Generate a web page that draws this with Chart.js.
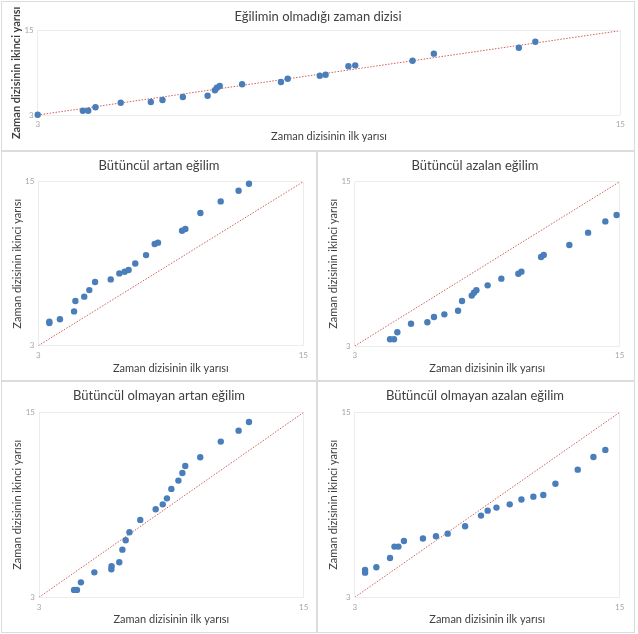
<!DOCTYPE html>
<html>
<head>
<meta charset="utf-8">
<script src="https://cdn.jsdelivr.net/npm/chart.js@4.4.0/dist/chart.umd.min.js"></script>
<style>
  body { margin: 0; background: #fff; width: 638px; height: 634px; position: relative; overflow: hidden; }
  .panel { position: absolute; box-sizing: border-box; border: 1px solid #dcdcdc; background: #fff; }
  .panel canvas { position: absolute; left: 0; top: 0; }
</style>
</head>
<body>
<div class="panel" id="p1"><canvas id="c1"></canvas></div>
<div class="panel" id="p2"><canvas id="c2"></canvas></div>
<div class="panel" id="p3"><canvas id="c3"></canvas></div>
<div class="panel" id="p4"><canvas id="c4"></canvas></div>
<div class="panel" id="p5"><canvas id="c5"></canvas></div>
<script>
// axis ticks (both axes, all panels)
var axisTicks = [3, 15];
var xAxisTitle = "Zaman dizisinin ilk yarısı";
var yAxisTitle = "Zaman dizisinin ikinci yarısı";

// Eğilimin olmadığı zaman dizisi
var noTrendX = [3.00, 3.93, 4.04, 4.19, 4.71, 5.33, 5.57, 5.99, 6.50, 6.65, 6.69, 6.75, 7.21, 8.01, 8.15, 8.81, 8.93, 9.40, 9.54, 10.72, 11.16, 12.91, 13.25];
var noTrendY = [3.04, 3.61, 3.61, 4.10, 4.75, 4.85, 5.14, 5.56, 5.75, 6.52, 6.89, 7.13, 7.37, 7.70, 8.17, 8.59, 8.74, 9.93, 10.07, 10.73, 11.73, 12.58, 13.43];

// Bütüncül artan eğilim
var monoIncX = [3.50, 3.50, 3.98, 4.62, 4.68, 5.08, 5.31, 5.57, 6.28, 6.67, 6.91, 7.09, 7.39, 7.88, 8.27, 8.42, 9.51, 9.66, 10.34, 11.26, 12.07, 12.54];
var monoIncY = [4.66, 4.76, 4.93, 5.51, 6.27, 6.59, 7.07, 7.66, 7.85, 8.29, 8.41, 8.54, 9.02, 9.63, 10.44, 10.54, 11.41, 11.54, 12.71, 13.56, 14.34, 14.85];

// Bütüncül azalan eğilim
var monoDecX = [4.60, 4.78, 4.93, 5.55, 6.29, 6.59, 7.06, 7.68, 7.86, 8.30, 8.40, 8.51, 9.02, 9.64, 10.41, 10.55, 11.44, 11.56, 12.72, 13.57, 14.35, 14.86];
var monoDecY = [3.49, 3.49, 4.00, 4.63, 4.73, 5.12, 5.31, 5.58, 6.29, 6.68, 6.89, 7.07, 7.43, 7.92, 8.28, 8.43, 9.50, 9.65, 10.38, 11.28, 12.10, 12.57];

// Bütüncül olmayan artan eğilim
var nonMonoIncX = [4.59, 4.72, 4.90, 5.51, 6.28, 6.29, 6.64, 6.78, 6.93, 7.10, 7.59, 8.29, 8.61, 8.80, 9.00, 9.32, 9.50, 9.63, 10.31, 11.24, 12.05, 12.52];
var nonMonoIncY = [3.48, 3.48, 3.97, 4.62, 4.82, 5.01, 5.27, 6.09, 6.70, 7.22, 8.02, 8.71, 9.03, 9.42, 10.03, 10.57, 11.06, 11.52, 12.08, 13.10, 13.81, 14.37];

// Bütüncül olmayan azalan eğilim
var nonMonoDecX = [3.47, 3.47, 3.98, 4.60, 4.80, 4.98, 5.23, 6.09, 6.68, 7.21, 8.00, 8.72, 9.02, 9.42, 10.02, 10.55, 11.09, 11.54, 12.09, 13.10, 13.81, 14.35];
var nonMonoDecY = [4.60, 4.77, 4.95, 5.55, 6.29, 6.29, 6.65, 6.81, 6.96, 7.13, 7.61, 8.30, 8.62, 8.82, 9.03, 9.34, 9.53, 9.64, 10.37, 11.28, 12.10, 12.56];

var FONT = "Lato, 'Open Sans', sans-serif";

// panel boxes and plot areas in page pixels
var panels = [
  { id: "1", title: "Eğilimin olmadığı zaman dizisi", xs: noTrendX, ys: noTrendY,
    box: [1, 1, 634, 150], plot: { l: 37.7, r: 620.3, t: 30.7, b: 115 },
    titleAt: [318, 17], xTitleY: 136, yTitleX: 16.5, yBold: true },
  { id: "2", title: "Bütüncül artan eğilim", xs: monoIncX, ys: monoIncY,
    box: [1, 151, 316, 230], plot: { l: 38.3, r: 303.3, t: 181.7, b: 345.7 },
    titleAt: [159, 166], xTitleY: 368.5, yTitleX: 17 },
  { id: "3", title: "Bütüncül azalan eğilim", xs: monoDecX, ys: monoDecY,
    box: [317, 151, 318, 230], plot: { l: 354.7, r: 619.7, t: 181.7, b: 346 },
    titleAt: [475, 166], xTitleY: 368.5, yTitleX: 333 },
  { id: "4", title: "Bütüncül olmayan artan eğilim", xs: nonMonoIncX, ys: nonMonoIncY,
    box: [1, 381, 316, 252], plot: { l: 39, r: 303.7, t: 412.3, b: 597.3 },
    titleAt: [159, 396], xTitleY: 619.3, yTitleX: 17 },
  { id: "5", title: "Bütüncül olmayan azalan eğilim", xs: nonMonoDecX, ys: nonMonoDecY,
    box: [317, 381, 318, 252], plot: { l: 354.7, r: 619.7, t: 412.3, b: 597.3 },
    titleAt: [475, 396], xTitleY: 619.3, yTitleX: 333 }
];

panels.forEach(function (p) {
  var div = document.getElementById("p" + p.id);
  div.style.left = p.box[0] + "px";
  div.style.top = p.box[1] + "px";
  div.style.width = p.box[2] + "px";
  div.style.height = p.box[3] + "px";

  var cx = p.box[0] + 1, cy = p.box[1] + 1;
  var cw = p.box[2] - 2, ch = p.box[3] - 2;
  var canvas = document.getElementById("c" + p.id);
  canvas.width = cw;
  canvas.height = ch;

  var axisFontSize = 11, lh = axisFontSize * 1.2;

  var titlePlugin = {
    id: "panelTitle" + p.id,
    afterDraw: function (chart) {
      var ctx = chart.ctx;
      ctx.save();
      ctx.font = "13px " + FONT;
      ctx.fillStyle = "#404040";
      ctx.textAlign = "center";
      ctx.textBaseline = "middle";
      ctx.fillText(p.title, p.titleAt[0] - cx, p.titleAt[1] - cy);
      ctx.restore();
    }
  };

  new Chart(canvas, {
    type: "scatter",
    data: {
      datasets: [
        {
          data: p.xs.map(function (x, i) { return { x: x, y: p.ys[i] }; }),
          backgroundColor: "#4a7ebb",
          borderWidth: 0,
          pointRadius: 3.2,
          clip: false
        },
        {
          type: "line",
          data: axisTicks.map(function (v) { return { x: v, y: v }; }),
          borderColor: "#d0605c",
          borderWidth: 1,
          borderDash: [1.5, 1.5],
          pointRadius: 0,
          fill: false
        }
      ]
    },
    options: {
      responsive: false,
      animation: false,
      devicePixelRatio: 1,
      layout: { padding: { top: p.plot.t - cy, right: cx + cw - p.plot.r, left: 0, bottom: 0 } },
      plugins: { legend: { display: false }, title: { display: false }, tooltip: { enabled: false } },
      scales: {
        x: {
          type: "linear", min: axisTicks[0], max: axisTicks[axisTicks.length - 1],
          afterBuildTicks: function (s) { s.ticks = axisTicks.map(function (v) { return { value: v }; }); },
          afterFit: function (s) { s.height = cy + ch - p.plot.b; },
          ticks: { font: { size: 8, family: FONT }, color: "#a6a6a6", padding: 5, maxRotation: 0 },
          grid: { color: "#ececec", drawTicks: false },
          border: { display: false },
          title: {
            display: true, text: xAxisTitle, color: "#404040",
            font: { size: axisFontSize, family: FONT },
            padding: { top: 0, bottom: (cy + ch) - p.xTitleY - lh / 2 }
          }
        },
        y: {
          type: "linear", min: axisTicks[0], max: axisTicks[axisTicks.length - 1],
          afterBuildTicks: function (s) { s.ticks = axisTicks.map(function (v) { return { value: v }; }); },
          afterFit: function (s) { s.width = p.plot.l - cx; },
          ticks: { font: { size: 8, family: FONT }, color: "#a6a6a6", padding: 4 },
          grid: { color: "#ececec", drawTicks: false },
          border: { display: false },
          title: {
            display: true, text: yAxisTitle, color: "#404040",
            font: { size: axisFontSize, family: FONT, weight: p.yBold ? "bold" : "normal" },
            padding: { top: p.yTitleX - cx - lh / 2, bottom: 0 }
          }
        }
      }
    },
    plugins: [titlePlugin]
  });
});
</script>
</body>
</html>
